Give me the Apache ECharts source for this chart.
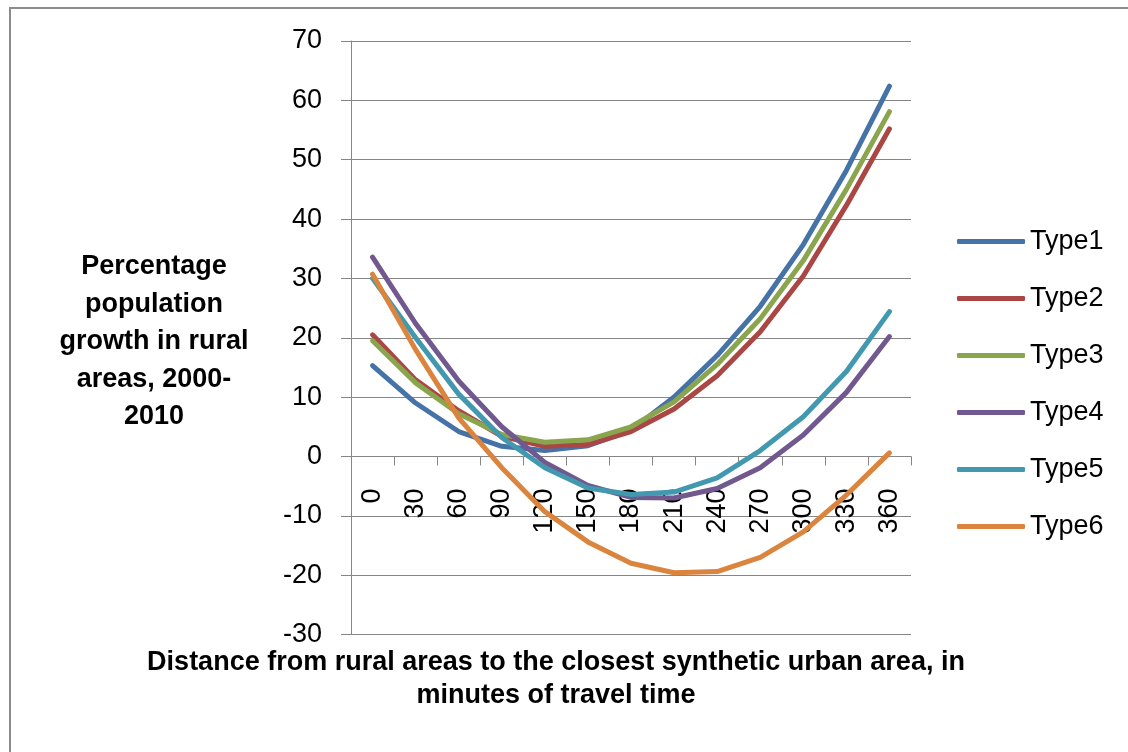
<!DOCTYPE html>
<html>
<head>
<meta charset="utf-8">
<script src="https://cdn.jsdelivr.net/npm/echarts@6/dist/echarts.min.js"></script>
<style>
  html, body { margin: 0; padding: 0; background: #ffffff; }
  #chart { width: 1128px; height: 752px; }
</style>
</head>
<body>
<div id="chart"></div>
<script>
// Travel time from rural areas to the closest synthetic urban area (minutes)
const minutes = ['0', '30', '60', '90', '120', '150', '180', '210', '240', '270', '300', '330', '360'];

// Percentage population growth 2000-2010, one list per area type
const type1 = [15.3, 9.0, 4.2, 1.7, 1.0, 1.8, 4.4, 10.0, 17.0, 25.3, 35.7, 48.2, 62.4];
const type2 = [20.5, 12.9, 7.7, 3.4, 1.7, 2.0, 4.2, 8.0, 13.6, 21.0, 30.4, 42.3, 55.2];
const type3 = [19.5, 12.4, 7.2, 3.7, 2.4, 2.8, 5.0, 9.2, 15.5, 23.2, 33.0, 45.0, 58.1];
const type4 = [33.6, 22.4, 12.7, 5.0, -1.0, -4.9, -6.9, -7.0, -5.4, -1.9, 3.6, 10.8, 20.2];
const type5 = [30.0, 20.0, 10.5, 3.2, -1.9, -5.3, -6.4, -6.0, -3.6, 1.0, 6.7, 14.3, 24.4];
const type6 = [30.7, 18.0, 6.5, -1.9, -9.3, -14.4, -18.0, -19.6, -19.4, -17.0, -12.7, -6.5, 0.6];

const seriesNames = ['Type1', 'Type2', 'Type3', 'Type4', 'Type5', 'Type6'];
const seriesData = [type1, type2, type3, type4, type5, type6];
const colors = ['#4572A7', '#AA4643', '#89A54E', '#71588F', '#4198AF', '#DB843D'];

const yMin = -30;
const yMax = 70;
const axisGray = '#868686';
const baseFont = 'Liberation Sans, Arial, sans-serif';

// plot box
const gridTop = 41;
const gridBottom = 117.5;
const plotHeight = 752 - gridTop - gridBottom;
// the category axis sits on the zero line: lift it from the bottom edge
const zeroOffset = -plotHeight * (0 - yMin) / (yMax - yMin);

const chart = echarts.init(document.getElementById('chart'), null, { renderer: 'canvas' });

chart.setOption({
  animation: false,
  backgroundColor: '#ffffff',
  color: colors,
  grid: { left: 351, right: 217, top: gridTop, bottom: gridBottom, containLabel: false },
  legend: {
    orient: 'vertical',
    left: 952,
    top: 223,
    icon: 'roundRect',
    itemWidth: 68,
    itemHeight: 5,
    itemGap: 30,
    textStyle: { fontFamily: baseFont, fontSize: 27, color: '#000', padding: [0, 0, 0, 0] },
    data: seriesNames
  },
  xAxis: {
    type: 'category',
    data: minutes,
    boundaryGap: true,
    position: 'bottom',
    offset: zeroOffset,
    axisLine: { onZero: false, lineStyle: { color: axisGray, width: 1 } },
    axisTick: { show: true, length: 9, alignWithLabel: false, lineStyle: { color: axisGray } },
    axisLabel: {
      rotate: 90,
      margin: 32,
      interval: 0,
      fontFamily: baseFont,
      fontSize: 27,
      color: '#000'
    },
    splitLine: { show: false }
  },
  yAxis: {
    type: 'value',
    min: yMin,
    max: yMax,
    interval: 10,
    axisLine: { show: true, lineStyle: { color: axisGray, width: 1 } },
    axisTick: { show: true, length: 10, lineStyle: { color: axisGray } },
    axisLabel: { margin: 29, fontFamily: baseFont, fontSize: 27, color: '#000' },
    splitLine: { show: true, lineStyle: { color: axisGray, width: 1 } }
  },
  graphic: [
    {
      // chart frame
      type: 'rect',
      silent: true,
      shape: { x: 10, y: 8, width: 1200, height: 800 },
      style: { fill: 'none', stroke: '#8c8c8c', lineWidth: 2 }
    },
    {
      type: 'text',
      x: 154,
      y: 342,
      style: {
        text: 'Percentage\npopulation\ngrowth in rural\nareas, 2000-\n2010',
        x: 0, y: 0,
        align: 'center',
        verticalAlign: 'middle',
        lineHeight: 37.5,
        font: 'bold 27px ' + baseFont,
        fill: '#000'
      }
    },
    {
      type: 'text',
      x: 556,
      y: 679,
      style: {
        text: 'Distance from rural areas to the closest synthetic urban area, in\nminutes of travel time',
        x: 0, y: 0,
        align: 'center',
        verticalAlign: 'middle',
        lineHeight: 33,
        font: 'bold 27px ' + baseFont,
        fill: '#000'
      }
    }
  ],
  series: seriesNames.map((name, i) => ({
    name: name,
    type: 'line',
    data: seriesData[i],
    symbol: 'none',
    smooth: false,
    lineStyle: { width: 5, color: colors[i], cap: 'round', join: 'round' },
    itemStyle: { color: colors[i] },
    z: 2 + i
  }))
});
</script>
</body>
</html>
